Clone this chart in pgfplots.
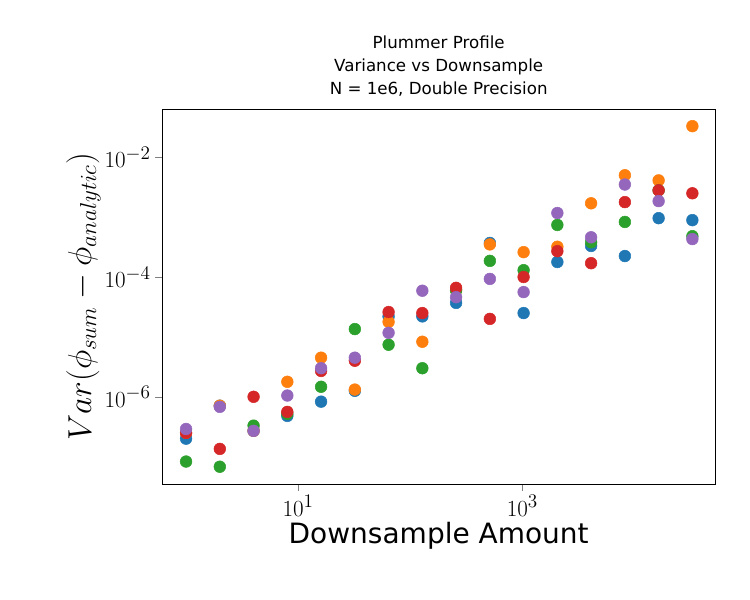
\documentclass[border=0pt]{standalone}
\usepackage{fontspec}
\setmainfont{DejaVu Sans}
\usepackage{pgfplots}
\pgfplotsset{compat=1.18}
\definecolor{c0}{HTML}{1F77B4}\definecolor{c1}{HTML}{FF7F0E}\definecolor{c2}{HTML}{2CA02C}\definecolor{c3}{HTML}{D62728}\definecolor{c4}{HTML}{9467BD}
\begin{document}
\begin{tikzpicture}
\path[use as bounding box] (-121.5pt,-87pt) rectangle (441pt,363pt);
\begin{axis}[scale only axis, width=415pt, height=281pt, at={(0,0)}, anchor=south west,
 xmode=log, ymode=log, xmin=0.61, xmax=52500, ymin=3.5e-8, ymax=6.3e-2,
 xtick={10,1000}, ytick={1e-6,1e-4,1e-2}, minor tick num=0,
 minor x tick style={draw=none}, minor y tick style={draw=none},
 tick align=outside, tick pos=left, major tick length=5pt,
 ticklabel style={font=\fontsize{19}{22}\selectfont},
 xlabel={Downsample Amount}, ylabel={$Var(\phi_{sum}-\phi_{analytic})$},
 xlabel style={font=\fontsize{21}{25}\selectfont, yshift=2pt},
 ylabel style={font=\fontsize{23}{27}\selectfont, yshift=-4pt},
 title={Plummer Profile\\Variance vs Downsample\\N = 1e6, Double Precision},
 title style={align=center, font=\fontsize{12.5}{17.5}\selectfont},
 every axis plot/.append style={only marks, mark=*, mark size=4.4pt}]
\addplot[c0, mark options={fill=c0}] coordinates {(1,2.0e-7)(2,7.1e-7)(4,2.7e-7)(8,4.8e-7)(16,8.3e-7)(32,1.26e-6)(64,2.2e-5)(128,2.2e-5)(256,3.7e-5)(512,3.7e-4)(1024,2.5e-5)(2048,1.78e-4)(4096,3.3e-4)(8192,2.24e-4)(16384,9.6e-4)(32768,8.9e-4)};
\addplot[c1, mark options={fill=c1}] coordinates {(1,2.5e-7)(2,7.1e-7)(4,2.7e-7)(8,1.78e-6)(16,4.5e-6)(32,1.32e-6)(64,1.78e-5)(128,8.3e-6)(256,6.0e-5)(512,3.5e-4)(1024,2.6e-4)(2048,3.2e-4)(4096,1.7e-3)(8192,5.0e-3)(16384,4.1e-3)(32768,3.3e-2)};
\addplot[c2, mark options={fill=c2}] coordinates {(1,8.3e-8)(2,6.8e-8)(4,3.3e-7)(8,5.2e-7)(16,1.47e-6)(32,1.35e-5)(64,7.4e-6)(128,3.0e-6)(256,6.0e-5)(512,1.86e-4)(1024,1.3e-4)(2048,7.4e-4)(4096,3.8e-4)(8192,8.3e-4)(16384,2.8e-3)(32768,4.8e-4)};
\addplot[c3, mark options={fill=c3}] coordinates {(1,2.5e-7)(2,1.35e-7)(4,1.0e-6)(8,5.6e-7)(16,2.7e-6)(32,4.0e-6)(64,2.6e-5)(128,2.5e-5)(256,6.6e-5)(512,2.0e-5)(1024,1.0e-4)(2048,2.7e-4)(4096,1.7e-4)(8192,1.78e-3)(16384,2.8e-3)(32768,2.5e-3)};
\addplot[c4, mark options={fill=c4}] coordinates {(1,2.9e-7)(2,6.8e-7)(4,2.7e-7)(8,1.05e-6)(16,3.0e-6)(32,4.5e-6)(64,1.17e-5)(128,5.9e-5)(256,4.6e-5)(512,9.3e-5)(1024,5.6e-5)(2048,1.17e-3)(4096,4.6e-4)(8192,3.5e-3)(16384,1.85e-3)(32768,4.3e-4)};
\end{axis}
\end{tikzpicture}
\end{document}
